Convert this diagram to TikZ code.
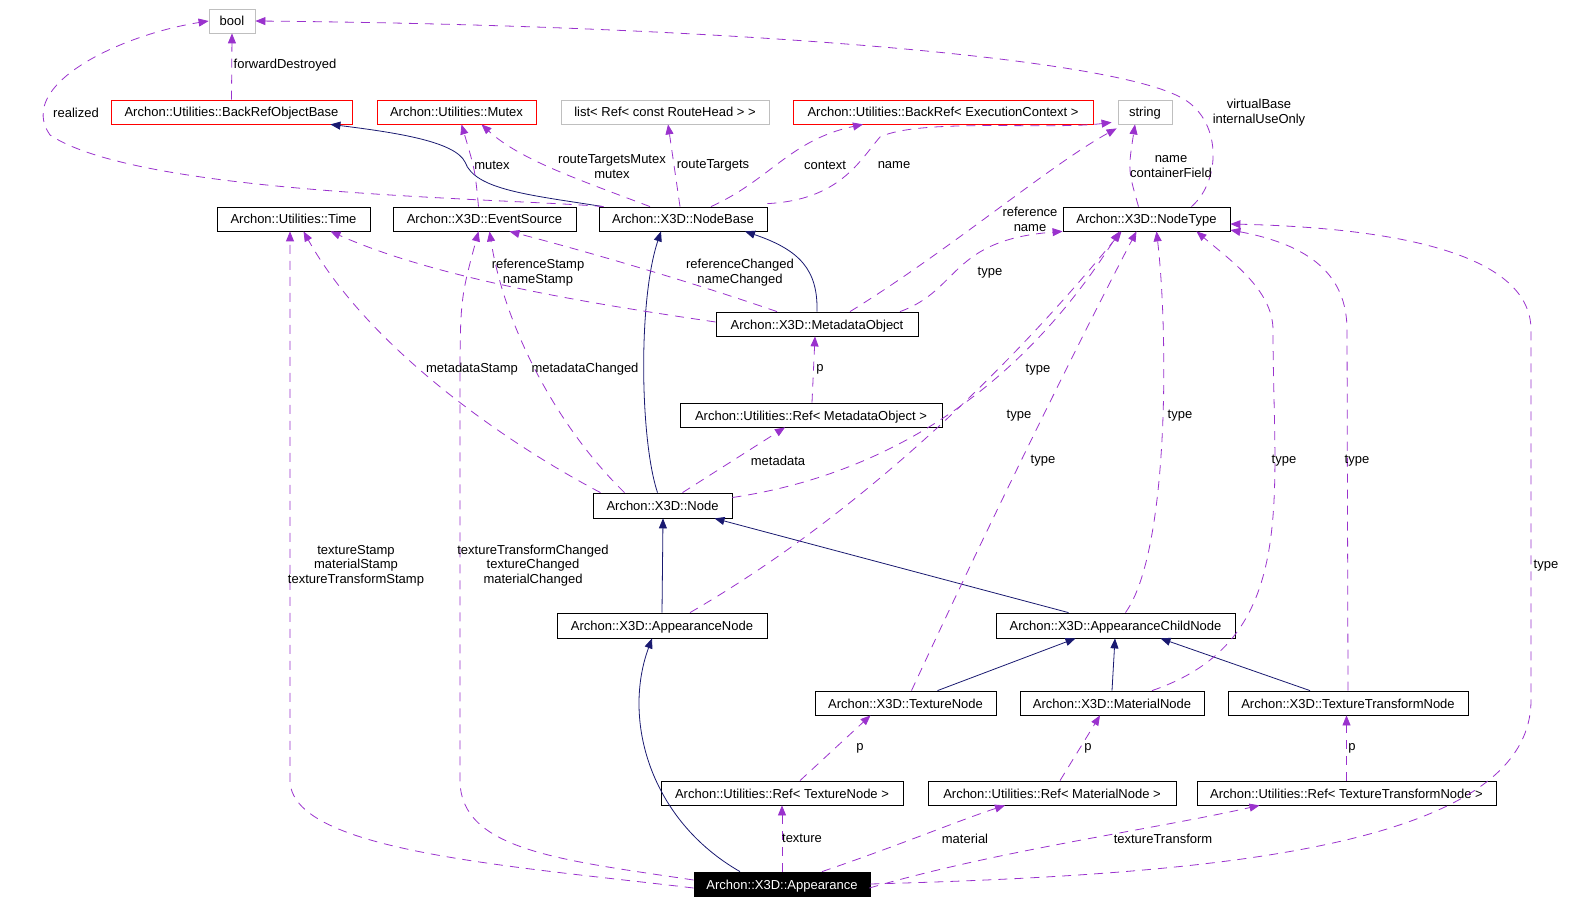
\documentclass[tikz,border=0pt]{standalone}
\usepackage{fontspec}
\setmainfont{Liberation Sans}
\usetikzlibrary{arrows.meta}
\definecolor{usec}{HTML}{9A32CD}
\definecolor{inhc}{HTML}{191970}
\definecolor{grayb}{HTML}{BFBFBF}
\begin{document}
\begin{tikzpicture}[x=1pt,y=-1pt,
  font=\fontsize{13}{15}\selectfont,
  cls/.style={draw=black, line width=0.8pt, minimum height=24pt, inner sep=0pt, fill=white, text height=10pt, text depth=0pt},
  extbox/.style={cls, draw=grayb},
  redbox/.style={cls, draw=red},
  use/.style={draw=usec, line width=0.8pt, dash pattern=on 9pt off 7pt, -{Triangle[length=10pt,width=8pt]}},
  inh/.style={draw=inhc, line width=0.8pt, -{Triangle[length=10pt,width=8pt]}},
  lab/.style={align=center, inner sep=0pt, yshift=-1.5pt, font=\fontsize{13}{14.5}\selectfont}
]
\useasboundingbox (0,0) rectangle (1569,904);
% nodes
\node[extbox, minimum width=46pt] (bool) at (232,21) {bool};
\node[redbox, minimum width=241pt] (brob) at (231.5,112) {Archon::Utilities::BackRefObjectBase};
\node[redbox, minimum width=159pt] (mutex) at (456.5,112) {Archon::Utilities::Mutex};
\node[extbox, minimum width=208pt] (list) at (665,112) {list< Ref< const RouteHead > >};
\node[redbox, minimum width=300pt] (brec) at (943,112) {Archon::Utilities::BackRef< ExecutionContext >};
\node[extbox, minimum width=54pt] (string) at (1145,112) {string};
\node[cls, minimum width=153pt] (time) at (293.5,219) {Archon::Utilities::Time};
\node[cls, minimum width=183pt] (evsrc) at (484.5,219) {Archon::X3D::EventSource};
\node[cls, minimum width=168pt] (nbase) at (683,219) {Archon::X3D::NodeBase};
\node[cls, minimum width=167pt] (ntype) at (1146.5,219) {Archon::X3D::NodeType};
\node[cls, minimum width=202pt] (mobj) at (817,324) {Archon::X3D::MetadataObject};
\node[cls, minimum width=262pt] (refm) at (811,415) {Archon::Utilities::Ref< MetadataObject >};
\node[cls, minimum width=139pt, minimum height=25pt] (node) at (662.5,505.5) {Archon::X3D::Node};
\node[cls, minimum width=210pt, minimum height=25pt] (appn) at (662,625.5) {Archon::X3D::AppearanceNode};
\node[cls, minimum width=239pt, minimum height=25pt] (appc) at (1115.5,625.5) {Archon::X3D::AppearanceChildNode};
\node[cls, minimum width=181pt] (texn) at (905.5,703) {Archon::X3D::TextureNode};
\node[cls, minimum width=184pt] (matn) at (1112,703) {Archon::X3D::MaterialNode};
\node[cls, minimum width=240pt] (ttn) at (1348,703) {Archon::X3D::TextureTransformNode};
\node[cls, minimum width=242pt] (reft) at (782,793) {Archon::Utilities::Ref< TextureNode >};
\node[cls, minimum width=248pt] (refmat) at (1052,793) {Archon::Utilities::Ref< MaterialNode >};
\node[cls, minimum width=299pt] (reftt) at (1346.5,793) {Archon::Utilities::Ref< TextureTransformNode >};
\node[cls, fill=black, text=white, minimum width=176pt] (app) at (782,884) {Archon::X3D::Appearance};

% inheritance
\draw[inh] ([xshift=-80]nbase.north) .. controls (530,195) and (475,190) .. (465,162) .. controls (455,142) and (400,133) .. ([xshift=-22]brob.south east);
\draw[inh] (mobj.north) .. controls (818,270) and (800,250) .. ([xshift=62]nbase.south);
\draw[inh] ([xshift=-5]node.north) .. controls (640,440) and (638,300) .. ([xshift=-22]nbase.south);
\draw[inh] (appn.north) -- ([xshift=0.5]node.south);
\draw[inh] ([xshift=-47]appc.north) -- ([xshift=52]node.south);
\draw[inh] ([xshift=-42]app.north) .. controls (650,820) and (622,720) .. ([xshift=-10]appn.south);
\draw[inh] ([xshift=32]texn.north) -- ([xshift=-40]appc.south);
\draw[inh] (matn.north) -- ([xshift=-0.5]appc.south);
\draw[inh] ([xshift=-38]ttn.north) -- ([xshift=45]appc.south);

% usage
\draw[use] (brob.north) -- (bool.south);
\node[lab] (l1) at (285,64) {forwardDestroyed};
\draw[use] ([xshift=5]nbase.north west) .. controls (500,198) and (140,195) .. (50,135) .. controls (15,85) and (120,35) .. (bool.west);
\node[lab] (l2) at (76,111) {realized};
\draw[use] ([xshift=45]ntype.north) .. controls (1222,180) and (1222,118) .. (1180,97) .. controls (1100,55) and (700,25) .. (bool.east);
\node[lab] (l3) at (1259,111) {virtualBase\\internalUseOnly};
\draw[use] ([xshift=-6]evsrc.north) .. controls (475,170) .. ([xshift=5]mutex.south);
\node[lab] (l4) at (492,164) {mutex};
\draw[use] ([xshift=-33]nbase.north) .. controls (580,180) and (520,160) .. ([xshift=25]mutex.south);
\node[lab] (l5) at (612,165) {routeTargetsMutex\\mutex};
\draw[use] ([xshift=-3]nbase.north) .. controls (675,170) .. ([xshift=3]list.south);
\node[lab] (l6) at (713,164) {routeTargets};
\draw[use] ([xshift=28]nbase.north) .. controls (770,180) and (790,140) .. ([xshift=-80]brec.south);
\node[lab] (l7) at (825,164) {context};
\draw[use] ([yshift=3]nbase.north east) .. controls (840,200) and (860,160) .. (880,137) .. controls (920,118) and (1050,130) .. ([xshift=-6,yshift=2]string.south west);
\node[lab] (l8) at (894,164) {name};
\draw[use] ([xshift=33]mobj.north) .. controls (950,250) and (1050,165) .. ([xshift=-1,yshift=-4]string.south west);
\node[lab] (l9) at (1030,218) {reference\\name};
\draw[use] ([xshift=83]mobj.north) .. controls (960,290) and (950,240) .. ([yshift=0]ntype.south west);
\node[lab] (l10) at (990,271) {type};
\draw[use] ([xshift=-8]ntype.north) .. controls (1128,170) .. ([xshift=-10]string.south);
\node[lab] (l11) at (1171,165) {name\\containerField};
\draw[use] ([yshift=2]mobj.west) .. controls (600,305) and (440,280) .. ([xshift=37]time.south);
\node[lab] (l12) at (538,271) {referenceStamp\\nameStamp};
\draw[use] ([xshift=-40]mobj.north) .. controls (700,285) and (600,255) .. ([xshift=25]evsrc.south);
\node[lab] (l13) at (740,271) {referenceChanged\\nameChanged};
\draw[use] ([xshift=-62]node.north) .. controls (510,445) and (370,350) .. ([xshift=10]time.south);
\node[lab] (l14) at (472,368) {metadataStamp};
\draw[use] ([xshift=-38]node.north) .. controls (560,430) and (505,330) .. ([xshift=5]evsrc.south);
\node[lab] (l15) at (585,368) {metadataChanged};
\draw[use] ([xshift=20]node.north) -- ([xshift=-26]refm.south);
\node[lab] (l16) at (778,459) {metadata};
\draw[use] ([xshift=1]refm.north) -- ([xshift=-2]mobj.south);
\node[lab] (l17) at (820,368) {p};
\draw[use] ([yshift=8]node.east) .. controls (850,480) and (1000,420) .. ([xshift=-27]ntype.south);
\node[lab] (l18) at (1019,414) {type};
\draw[use] ([xshift=28]appn.north) .. controls (850,520) and (1000,380) .. ([xshift=-25]ntype.south);
\node[lab] (l19) at (1038,368) {type};
\draw[use] ([xshift=10]appc.north) .. controls (1170,550) and (1168,330) .. ([xshift=10]ntype.south);
\node[lab] (l20) at (1180,414) {type};
\draw[use] ([xshift=6]texn.north) .. controls (1000,500) and (1090,320) .. ([xshift=-10]ntype.south);
\node[lab] (l21) at (1043,459) {type};
\draw[use] ([xshift=40]matn.north) .. controls (1300,640) and (1273,500) .. (1273,330) .. controls (1273,290) and (1230,260) .. ([xshift=50]ntype.south);
\node[lab] (l22) at (1284,459) {type};
\draw[use] (ttn.north) -- (1347,330) .. controls (1347,275) and (1310,245) .. ([yshift=-11]ntype.east);
\node[lab] (l23) at (1357,459) {type};
\draw[use] (app.east) .. controls (1200,875) and (1531,850) .. (1531,700) -- (1531,330) .. controls (1531,255) and (1400,228) .. ([yshift=-5]ntype.east);
\node[lab] (l24) at (1546,564) {type};
\draw[use] ([xshift=18]reft.north) -- ([xshift=-35]texn.south);
\node[lab] (l25) at (860,747) {p};
\draw[use] ([xshift=8]refmat.north) -- ([xshift=-12]matn.south);
\node[lab] (l26) at (1088,747) {p};
\draw[use] (reftt.north) -- ([xshift=-1.5]ttn.south);
\node[lab] (l27) at (1352,747) {p};
\draw[use] (app.north) -- (reft.south);
\node[lab] (l28) at (802,837) {texture};
\draw[use] ([xshift=40]app.north) .. controls (900,845) and (960,820) .. ([xshift=-47]refmat.south);
\node[lab] (l29) at (965,837) {material};
\draw[use] ([xshift=-1,yshift=-4]app.east) .. controls (1000,850) and (1150,830) .. ([xshift=-87]reftt.south);
\node[lab] (l30) at (1163,837) {textureTransform};
\draw[use] ([yshift=-4]app.west) .. controls (500,865) and (290,850) .. (290,780) -- ([xshift=-3.5]time.south);
\node[lab] (l31) at (356,564) {textureStamp\\materialStamp\\textureTransformStamp};
\draw[use] ([yshift=4]app.west) .. controls (560,860) and (460,850) .. (460,780) -- (460,400) .. controls (460,300) .. ([xshift=-6]evsrc.south);
\node[lab] (l32) at (533,564) {textureTransformChanged\\textureChanged\\materialChanged};
\end{tikzpicture}
\end{document}
